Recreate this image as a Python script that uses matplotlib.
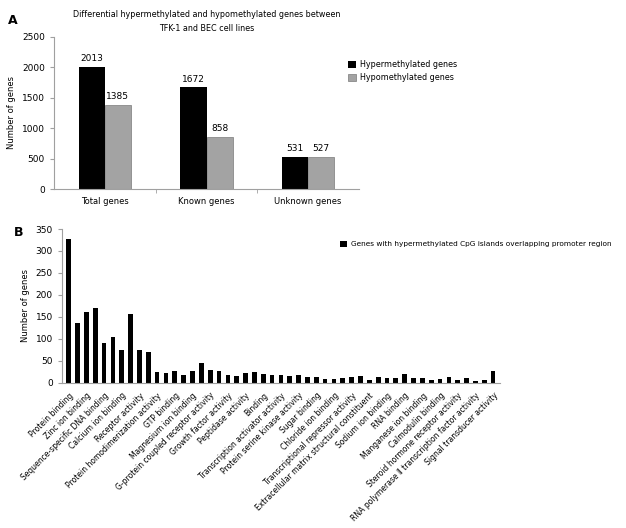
import matplotlib
matplotlib.use("Agg")
from matplotlib import pyplot as plt
import numpy as np

# panel A data
groups = ["Total genes", "Known genes", "Unknown genes"]
hyper_counts = [2013, 1672, 531]
hypo_counts = [1385, 858, 527]

# panel B data
functions = [
    "Protein binding", "", "Zinc ion binding", "", "Sequence-specific DNA binding", "",
    "Calcium ion binding", "", "Receptor activity", "", "Protein homodimerization activity", "",
    "GTP binding", "", "Magnesium ion binding", "", "G-protein coupled receptor activity", "",
    "Growth factor activity", "", "Peptidase activity", "", "Binding", "",
    "Transcription activator activity", "", "Protein serine kinase activity", "",
    "Sugar binding", "", "Chloride ion binding", "", "Transcriptional repressor activity", "",
    "Extracellular matrix structural constituent", "", "Sodium ion binding", "",
    "RNA binding", "", "Manganese ion binding", "", "Calmodulin binding", "",
    "Steroid hormone receptor activity", "", "RNA polymerase \u2161 transcription factor activity", "",
    "Signal transducer activity",
]
function_counts = [328, 135, 161, 171, 91, 105, 74, 156, 74, 70,
                   24, 21, 26, 18, 26, 46, 29, 26, 17, 15,
                   23, 24, 20, 17, 18, 16, 17, 12, 12, 9,
                   9, 11, 12, 16, 7, 13, 10, 11, 20, 10,
                   10, 5, 8, 12, 7, 10, 4, 7, 27]

plt.rcParams['font.family'] = ['DejaVu Sans']
GRID = '#a0a0a0'

fig = plt.figure(figsize=(6.26, 5.28), dpi=100)

# ---- panel A
axA = fig.add_axes([0.0863, 0.642, 0.4872, 0.288])
x = np.arange(len(groups))
w = 0.256
b1 = axA.bar(x - w / 2, hyper_counts, w, color='black', label='Hypermethylated genes')
b2 = axA.bar(x + w / 2, hypo_counts, w, color='#a3a3a3', edgecolor='#7a7a7a', linewidth=0.5,
             label='Hypomethylated genes')
for bars in (b1, b2):
    for r in bars:
        axA.text(r.get_x() + r.get_width() / 2, r.get_height() + 60, str(int(r.get_height())),
                 ha='center', va='bottom', fontsize=6.5)
axA.set_xlim(-0.5, 2.5)
axA.set_ylim(0, 2500)
axA.set_yticks(range(0, 2501, 500))
axA.set_xticks(x)
axA.set_xticklabels(groups, fontsize=6)
axA.set_xticks([0.5, 1.5], minor=True)
axA.tick_params(axis='x', which='major', length=0, pad=6)
axA.tick_params(axis='x', which='minor', length=3, color=GRID)
axA.tick_params(axis='y', labelsize=6.5, length=3, color=GRID)
axA.set_ylabel('Number of genes', fontsize=6)
for s in ('top', 'right'):
    axA.spines[s].set_visible(False)
for s in ('left', 'bottom'):
    axA.spines[s].set_color(GRID)
axA.set_title('Differential hypermethylated and hypomethylated genes between\nTFK-1 and BEC cell lines',
              fontsize=5.8, linespacing=1.8, pad=4)
fig.legend(handles=[b1, b2], loc='upper left', bbox_to_anchor=(0.545, 0.9), frameon=False,
           fontsize=5.8, handlelength=0.9, handleheight=0.9, handletextpad=0.5, labelspacing=0.55)
fig.text(0.012, 0.955, 'A', fontsize=9, fontweight='bold')

# ---- panel B
axB = fig.add_axes([0.099, 0.2752, 0.700, 0.291])
xb = np.arange(len(function_counts))
bb = axB.bar(xb, function_counts, 0.53, color='black',
             label='Genes with hypermethylated CpG islands overlapping promoter region')
axB.set_xlim(-0.76, len(function_counts) - 0.2)
axB.set_ylim(0, 350)
axB.set_yticks(range(0, 351, 50))
axB.set_xticks(xb)
axB.set_xticklabels(functions, rotation=45, ha='right', rotation_mode='anchor', fontsize=5.5)
axB.tick_params(axis='x', length=0, pad=6)
axB.tick_params(axis='y', labelsize=6.5, length=3, color=GRID)
axB.set_ylabel('Number of genes', fontsize=6)
for s in ('top', 'right'):
    axB.spines[s].set_visible(False)
for s in ('left', 'bottom'):
    axB.spines[s].set_color(GRID)
fig.legend(handles=[bb], loc='upper left', bbox_to_anchor=(0.533, 0.557), frameon=False,
           fontsize=5.3, handlelength=0.9, handleheight=0.9, handletextpad=0.5)
fig.text(0.022, 0.553, 'B', fontsize=9, fontweight='bold')

fig.savefig('out.png', dpi=100)
